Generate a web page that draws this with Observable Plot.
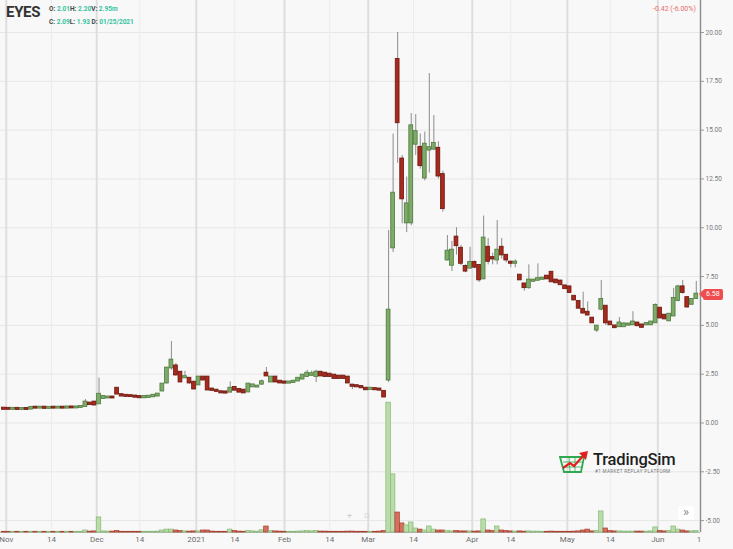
<!DOCTYPE html>
<html><head><meta charset="utf-8">
<script src="https://cdn.jsdelivr.net/npm/d3@7"></script>
<script src="https://cdn.jsdelivr.net/npm/@observablehq/plot@0.6"></script>
<style>
body{margin:0;background:#f8f8f8;font-family:Roboto,"Noto Sans",sans-serif;}
#wrap{position:relative;width:733px;height:549px;overflow:hidden;background:#f8f8f8;}
#wrap svg.plt{position:absolute;left:0;top:0;}
.ov{position:absolute;white-space:nowrap;}
.lab{color:#444;font-weight:700;}
.val{color:#33c3a0;font-weight:700;}
</style></head><body><div id="wrap"></div>
<script>
// ---- data (one entry per trading day, late Oct 2020 .. mid Jun 2021) ----
const open = [
 .74,.73,.72,.73,.71,.72,.73,.79,.78,.79,
 .77,.79,.78,.79,.78,.80,.79,.81,.86,1.0,
 1.05,1.0,1.28,1.30,1.31,1.76,1.43,1.40,1.38,1.36,
 1.33,1.31,1.33,1.36,1.40,1.66,2.07,2.84,2.9,2.58,
 2.33,2.27,2.07,1.97,2.33,2.33,1.72,1.66,1.58,1.57,
 1.60,1.8,1.7,1.66,1.61,1.87,1.86,2.01,2.53,2.12,
 2.33,2.12,2.08,2.06,2.09,2.17,2.27,2.4,2.46,2.4,
 2.58,2.53,2.48,2.43,2.38,2.38,2.33,1.92,1.89,1.85,
 1.76,1.74,1.74,1.72,1.6,2.22,8.99,18.6,13.5,10.27,
 10.27,14.3,14.1,12.57,14.0,14.05,14.05,12.7,8.37,8.1,
 9.5,8.93,8.0,7.95,8.2,8.05,7.4,8.98,8.45,8.37,
 8.98,8.57,8.22,8.2,7.55,7.1,6.95,7.28,7.33,7.38,
 7.5,7.7,7.3,7.25,7.0,6.95,6.47,6.2,5.8,5.65,
 5.35,4.78,5.85,5.96,5.15,4.95,4.95,4.95,5.03,5.05,
 5.1,5.0,5.05,5.05,5.15,5.86,5.5,5.25,5.5,6.3,
 6.95,6.4,6.1,6.4];
const high = [
 .76,.75,.74,.74,.74,.74,.80,.81,.81,.81,
 .80,.81,.80,.81,.82,.82,.83,.86,1.2,1.02,
 1.08,2.3,1.4,1.34,1.35,1.8,1.46,1.42,1.41,1.39,
 1.36,1.35,1.37,1.42,1.48,2.0,2.85,4.17,3.05,2.62,
 2.65,2.3,2.1,2.38,2.38,2.36,1.75,1.7,1.61,1.6,
 2.1,1.84,1.73,1.68,2.0,1.96,1.9,2.2,2.84,2.38,
 2.36,2.15,2.1,2.1,2.14,2.3,2.45,2.7,2.66,2.7,
 2.62,2.56,2.5,2.46,2.4,2.41,2.35,1.95,1.92,1.88,
 1.8,1.8,1.76,1.74,1.65,9.86,14.8,20.0,13.7,12.6,
 15.85,15.8,14.8,14.9,17.9,15.75,14.4,12.9,9.6,9.3,
 10.0,9.1,8.1,9.0,8.3,8.1,10.6,9.45,8.7,10.37,
 9.45,8.6,8.25,8.35,7.6,7.15,8.1,7.35,8.15,7.45,
 7.55,7.75,7.35,7.3,7.05,7.0,6.5,6.25,6.7,6.2,
 5.4,5.0,7.3,6.0,5.2,5.0,5.4,5.15,5.1,5.7,
 5.15,5.05,5.1,5.2,6.1,5.9,5.55,5.6,6.9,7.05,
 7.3,6.45,6.35,7.25];
const low = [
 .71,.71,.70,.70,.70,.70,.72,.76,.76,.76,
 .76,.77,.76,.77,.77,.77,.78,.79,.84,.94,
 .92,.95,1.22,1.26,1.27,1.48,1.38,1.36,1.35,1.33,
 1.30,1.29,1.31,1.34,1.38,1.6,2.0,2.7,2.4,2.08,
 2.28,2.0,1.72,1.92,2.18,1.68,1.66,1.62,1.53,1.53,
 1.58,1.68,1.58,1.54,1.58,1.84,1.82,1.93,2.4,2.08,
 2.1,2.05,2.04,2.03,2.06,2.14,2.25,2.38,2.42,2.07,
 2.4,2.38,2.38,2.27,2.28,2.27,2.05,1.71,1.84,1.78,
 1.7,1.72,1.68,1.66,1.3,2.07,8.73,13.3,10.2,9.75,
 10.1,13.7,13.0,12.4,12.8,13.95,12.5,10.8,8.3,7.76,
 8.6,8.05,7.7,7.9,7.9,7.2,7.35,8.1,8.1,8.1,
 8.4,8.2,7.95,7.95,7.3,6.75,6.85,7.22,7.3,7.32,
 7.36,7.2,7.15,7.05,6.85,6.65,6.28,5.85,5.6,5.5,
 5.1,4.63,5.75,5.0,5.0,4.85,4.9,4.9,4.98,5.0,
 4.95,4.88,4.98,5.0,5.1,5.35,5.3,5.2,5.45,6.2,
 6.6,5.9,6.05,6.35];
const close = [
 .72,.72,.73,.71,.72,.71,.78,.78,.79,.77,
 .78,.78,.79,.78,.80,.79,.80,.82,1.05,.96,
 .94,1.45,1.33,1.31,1.30,1.5,1.40,1.38,1.37,1.34,
 1.31,1.33,1.35,1.40,1.46,1.97,2.79,3.2,2.48,2.12,
 2.35,2.07,1.76,2.33,2.22,1.71,1.69,1.64,1.56,1.55,
 1.76,1.7,1.6,1.56,1.97,1.93,1.87,2.09,2.43,2.33,
 2.12,2.07,2.06,2.08,2.12,2.27,2.43,2.53,2.5,2.58,
 2.43,2.4,2.4,2.3,2.3,2.3,2.07,1.9,1.87,1.82,
 1.72,1.76,1.72,1.70,1.35,5.76,11.75,15.4,11.5,11.2,
 15.2,14.9,13.2,14.26,14.08,14.3,12.67,11.0,8.78,8.83,
 9.1,8.2,7.8,8.2,8.0,7.35,9.45,8.3,8.42,8.83,
 8.63,8.37,8.2,8.22,7.35,6.95,7.3,7.3,7.37,7.4,
 7.4,7.25,7.2,7.1,6.9,6.7,6.32,5.9,5.65,5.55,
 5.15,4.94,6.3,5.15,5.05,4.9,5.1,5.05,5.05,5.15,
 5.0,4.92,5.07,5.15,6.0,5.4,5.35,5.55,6.36,6.95,
 6.7,5.96,6.3,6.58];
const volume = [ // millions of shares
 .4,.4,.4,.4,.4,.4,.4,.4,.4,.4,
 .4,.4,.4,.4,.4,.4,.4,.4,1.1,.5,
 .6,8.3,.6,.5,.5,.9,.4,.4,.4,.4,
 .4,.4,.4,.4,.5,1.1,1.6,1.6,1.1,.8,
 .6,.5,.6,.6,1.1,1.1,.5,.4,.4,.4,
 1.6,.8,.5,.4,.8,.6,.5,1.2,3.3,.8,
 .6,.5,.4,.4,.4,.5,.6,.8,.6,.8,
 .5,.5,.4,.4,.4,.4,.5,.5,.4,.4,
 .4,.4,.4,.5,.8,71.5,32,11,5,3.9,
 5.5,2.2,1.6,1.1,3.3,1.6,1.1,1.1,.8,.6,
 .8,.6,.6,.6,.5,.6,7.2,1.1,.8,3.3,
 1.1,.8,.6,.5,.6,.5,.6,.5,.5,.4,
 .4,.5,.4,.4,.4,.4,.5,.6,1.1,1.6,
 .6,.8,11.6,2.2,.8,.6,.6,.5,.5,.5,
 .5,.5,.5,.6,2.8,.8,.6,.8,3.3,1.6,
 1.1,.6,.6,.8];
const tickPos    = [0.5, 10.5, 20.5, 30, 42.5, 51, 62, 72, 80.5, 90.5, 103.5, 112, 124.5, 134, 144.5, 153.6];
const tickLabels = ["Nov","14","Dec","14","2021","14","Feb","14","Mar","14","Apr","14","May","14","Jun","1"];
const monthLabels = ["Nov","Dec","2021","Feb","Mar","Apr","May","Jun"];
const yTicks = [-5,-2.5,0,2.5,5,7.5,10,12.5,15,17.5,20];

// ---- build ----
const candles = open.map((o,k)=>({k, open:o, high:high[k], low:low[k], close:close[k], volume:volume[k], up: close[k] >= o}));
const labelOf = new Map(tickPos.map((p,i)=>[p, tickLabels[i]]));
const monthTicks = tickPos.filter((p,i)=>monthLabels.includes(tickLabels[i]));
const midTicks = tickPos.filter((p,i)=>tickLabels[i]==="14");

const W = 733, H = 549, mR = 33, mB = 17;
const xDomain = [-0.77, 153.93];
const yDomain = [-5.61, 21.64];
const wrap = document.getElementById("wrap");

const price = Plot.plot({
  width: W, height: H, marginLeft: 0, marginRight: mR, marginTop: 0, marginBottom: mB,
  style: {background: "transparent", fontFamily: "Roboto, sans-serif", overflow: "visible"},
  x: {domain: xDomain, label: null},
  y: {domain: yDomain, label: null},
  marks: [
    Plot.ruleY(yTicks, {stroke: "#e7e7e7"}),
    Plot.ruleX(midTicks, {stroke: "#ececec"}),
    Plot.ruleX(monthTicks, {stroke: "#dedede", strokeWidth: 2}),
    Plot.ruleY([yDomain[0]], {stroke: "#b8b8b8"}),
    Plot.ruleX([xDomain[1]], {stroke: "#8e8e8e", strokeWidth: 1.5}),
    Plot.ruleX(candles, {x: "k", y1: "low", y2: "high", stroke: "#8c8c8c", strokeWidth: 1}),
    Plot.rect(candles, {x1: d => d.k - 0.42, x2: d => d.k + 0.42, y1: "open", y2: "close",
      fill: d => d.up ? "#7fab6a" : "#a8291d", stroke: d => d.up ? "#4d7a3c" : "#6a160d",
      strokeWidth: 0.8, insetTop: -0.9, insetBottom: -0.9}),
    Plot.axisY(yTicks, {anchor: "right", tickFormat: d => d.toFixed(2), tickSize: 3, tickPadding: 2,
      fontSize: 6.5, stroke: "#9a9a9a", fill: "#7a7a7a", label: null}),
    Plot.axisX(tickPos, {anchor: "bottom", tickFormat: d => labelOf.get(d), tickSize: 0, tickPadding: 4,
      fontSize: 8, fill: "#6e6e6e", label: null})
  ]
});
price.classList.add("plt");
wrap.appendChild(price);

const volTop = d3.max(volume) / 0.244;
const vol = Plot.plot({
  width: W, height: H, marginLeft: 0, marginRight: mR, marginTop: 0, marginBottom: mB,
  style: {background: "transparent", overflow: "visible", pointerEvents: "none"},
  x: {domain: xDomain, axis: null},
  y: {domain: [0, volTop], axis: null},
  marks: [
    Plot.rectY(candles, {x1: d => d.k - 0.5, x2: d => d.k + 0.5, y: "volume",
      fill: d => d.up ? "#b9dcaa" : "#d5705f", stroke: d => d.up ? "#86b873" : "#a8402f", strokeWidth: 0.7})
  ]
});
vol.classList.add("plt");
wrap.appendChild(vol);

// price tag for last close
const last = candles[candles.length - 1];
const ty = price.scale("y").apply(last.close);
const tag = document.createElement("div");
tag.className = "ov";
tag.style.cssText = `left:703px;top:${ty - 5.5}px;height:11px;line-height:11px;padding:0 3px;background:#ef4d4d;color:#fff;font-size:7px;border-radius:2px;`;
tag.textContent = last.close.toFixed(2);
wrap.appendChild(tag);
const tri = document.createElement("div");
tri.className = "ov";
tri.style.cssText = `left:699px;top:${ty - 4}px;width:0;height:0;border-top:4px solid transparent;border-bottom:4px solid transparent;border-right:4px solid #ef4d4d;`;
wrap.appendChild(tri);

// header
const hdr = document.createElement("div");
hdr.innerHTML = `
<div class="ov" style="left:6px;top:3px;font-size:15px;font-weight:700;color:#333;letter-spacing:-0.3px;">EYES</div>
<div class="ov" style="left:49px;top:5px;font-size:6.5px;"><span class="lab">O:</span> <span class="val">2.01</span><span class="lab">H:</span> <span class="val">2.20</span><span class="lab">V:</span> <span class="val">2.95m</span></div>
<div class="ov" style="left:49px;top:18px;font-size:6.5px;"><span class="lab">C:</span> <span class="val">2.09</span><span class="lab">L:</span> <span class="val">1.93</span> <span class="lab">D:</span> <span class="val">01/25/2021</span></div>
<div class="ov" style="left:653px;top:5px;font-size:7px;color:#e96a6a;">-0.42 (-6.00%)</div>
<div class="ov" style="left:559px;top:451px;">
 <svg width="32" height="22" viewBox="0 0 32 22">
  <path d="M1 6 L25 6 L22 21 L5 21 Z" fill="none" stroke="#2fa84f" stroke-width="1.8"/>
  <path d="M4 11 L23 11 M5 16 L22 16 M10 6 L11 21 M16 6 L16 21" stroke="#2fa84f" stroke-width="0.8"/>
  <path d="M4 17 L11 12 L15 15 L25 4" fill="none" stroke="#e0201b" stroke-width="2.2"/>
  <path d="M20 2 L29 0 L27 9 Z" fill="#e0201b"/>
 </svg>
</div>
<div class="ov" style="left:593px;top:450px;font-size:16.5px;font-weight:500;color:#1e1e1e;letter-spacing:-0.2px;">TradingSim</div>
<div class="ov" style="left:595px;top:469px;font-size:4.6px;color:#777;letter-spacing:0.35px;">#1 MARKET REPLAY PLATFORM</div>
<div class="ov" style="left:678px;top:506px;width:16px;height:14px;background:rgba(255,255,255,0.8);border-radius:2px;font-size:13px;line-height:12px;color:#8a8a8a;text-align:center;">»</div>
<div class="ov" style="left:347px;top:511px;font-size:9px;color:#cfcfcf;">+</div>
<div class="ov" style="left:364px;top:512px;font-size:7px;color:#cfcfcf;">⊡</div>
`;
wrap.appendChild(hdr);
</script>
</body></html>
